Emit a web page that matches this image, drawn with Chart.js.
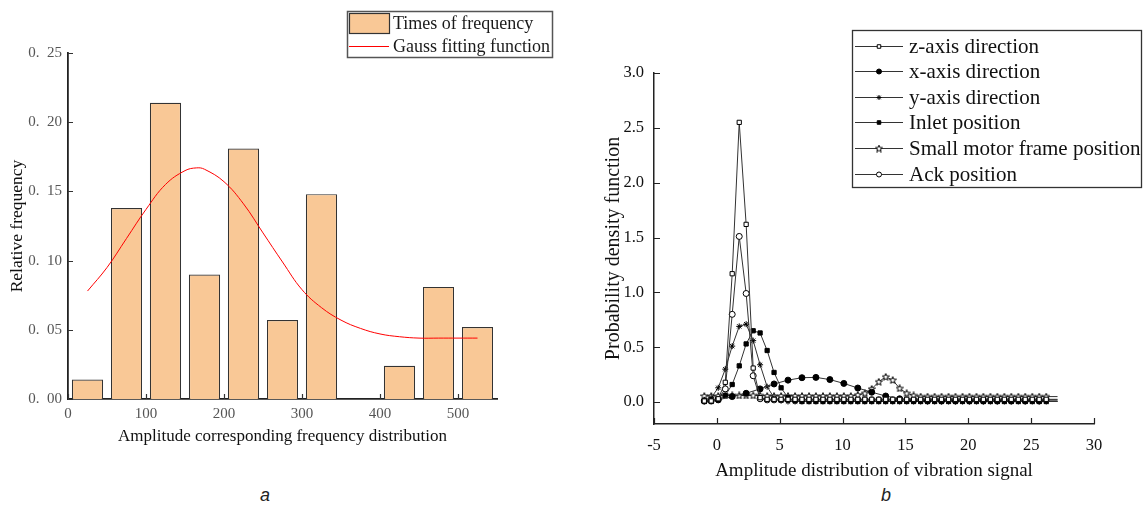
<!DOCTYPE html>
<html>
<head>
<meta charset="utf-8">
<script src="https://cdn.jsdelivr.net/npm/chart.js@4.4.0/dist/chart.umd.min.js"></script>
<style>
  body { margin: 0; background: #fff; width: 1145px; height: 508px; position: relative; overflow: hidden; }
  canvas { position: absolute; top: 0; }
  #histChart { left: 0; }
  #pdfChart { left: 590px; }
  .cap { position: absolute; top: 485px; font: italic 18px "Liberation Sans", Arial, sans-serif; color: #222; }
</style>
</head>
<body>
<canvas id="histChart" width="560" height="450"></canvas>
<canvas id="pdfChart" width="555" height="485"></canvas>
<div class="cap" style="left:260px">a</div>
<div class="cap" style="left:881px">b</div>
<script>
// ---- chart a: histogram + gauss fit
const binCenters = [25, 75, 125, 175, 225, 275, 325, 375, 425, 475, 525];
const relFreq = [0.014, 0.138, 0.214, 0.090, 0.181, 0.057, 0.148, 0, 0.024, 0.081, 0.052];
const gaussX = [25, 50, 75, 100, 125, 150, 165, 175, 200, 225, 250, 275, 300, 325, 350, 375, 400, 425, 450, 475, 500, 525];
const gaussY = [0.078, 0.095, 0.116, 0.137, 0.155, 0.165, 0.167, 0.166, 0.157, 0.141, 0.120, 0.099, 0.079, 0.066, 0.057, 0.051, 0.047, 0.045, 0.044, 0.044, 0.044, 0.044];
const histXTicks = [0, 100, 200, 300, 400, 500];
const histYTicks = [0, 0.05, 0.10, 0.15, 0.20, 0.25];
const histYLabels = ['0.\u200200', '0.\u200205', '0.\u200210', '0.\u200215', '0.\u200220', '0.\u200225'];

// ---- chart b: probability density curves
const gridX = [-1.00, -0.45, 0.11, 0.67, 1.22, 1.78, 2.33, 2.89, 3.44, 4.00, 4.55, 5.11, 5.66, 6.22, 6.77, 7.33, 7.88, 8.44, 8.99, 9.55,
  10.10, 10.66, 11.21, 11.77, 12.32, 12.88, 13.43, 13.99, 14.54, 15.10, 15.65, 16.21, 16.76, 17.32, 17.87, 18.43, 18.98, 19.54, 20.09, 20.65,
  21.20, 21.76, 22.31, 22.87, 23.42, 23.98, 24.53, 25.09, 25.64, 26.20, 27.10];
const zAxis = [0.01, 0.01, 0.03, 0.18, 1.17, 2.55, 1.62, 0.31, 0.04, 0.025, 0.025, 0.025, 0.025, 0.025, 0.025, 0.025, 0.025, 0.025, 0.025, 0.025,
  0.025, 0.025, 0.025, 0.025, 0.025, 0.025, 0.025, 0.025, 0.025, 0.025, 0.025, 0.025, 0.025, 0.025, 0.025, 0.025, 0.025, 0.025, 0.025, 0.025,
  0.025, 0.025, 0.025, 0.025, 0.025, 0.025, 0.025, 0.025, 0.025, 0.025, 0.025];
const yAxis = [0.02, 0.04, 0.13, 0.30, 0.51, 0.69, 0.71, 0.56, 0.34, 0.14, 0.04, 0.015, 0.005, 0.005, 0.005, 0.005, 0.005, 0.005, 0.005, 0.005,
  0.005, 0.005, 0.005, 0.005, 0.005, 0.005, 0.005, 0.005, 0.005, 0.005, 0.005, 0.005, 0.005, 0.005, 0.005, 0.005, 0.005, 0.005, 0.005, 0.005,
  0.005, 0.005, 0.005, 0.005, 0.005, 0.005, 0.005, 0.005, 0.005, 0.005, 0.005];
const inlet = [0.005, 0.005, 0.02, 0.06, 0.16, 0.33, 0.53, 0.65, 0.63, 0.47, 0.27, 0.13, 0.04, 0.01, 0.005, 0.005, 0.005, 0.005, 0.005, 0.005,
  0.005, 0.005, 0.005, 0.005, 0.005, 0.005, 0.005, 0.005, 0.005, 0.005, 0.005, 0.005, 0.005, 0.005, 0.005, 0.005, 0.005, 0.005, 0.005, 0.005,
  0.005, 0.005, 0.005, 0.005, 0.005, 0.005, 0.005, 0.005, 0.005, 0.005, 0.005];
const motorFrame = [0.055, 0.055, 0.055, 0.06, 0.06, 0.06, 0.06, 0.06, 0.06, 0.055, 0.055, 0.055, 0.055, 0.055, 0.055, 0.055, 0.055, 0.055, 0.055, 0.055,
  0.055, 0.055, 0.065, 0.08, 0.12, 0.185, 0.23, 0.20, 0.125, 0.08, 0.06, 0.05, 0.05, 0.05, 0.05, 0.05, 0.05, 0.05, 0.05, 0.05,
  0.05, 0.05, 0.05, 0.05, 0.05, 0.05, 0.05, 0.05, 0.05, 0.05, 0.05];
const ack = [0.01, 0.01, 0.03, 0.12, 0.80, 1.51, 0.99, 0.24, 0.03, 0.02, 0.02, 0.02, 0.02, 0.02, 0.02, 0.02, 0.02, 0.02, 0.02, 0.02,
  0.02, 0.02, 0.02, 0.02, 0.02, 0.02, 0.02, 0.02, 0.02, 0.02, 0.02, 0.02, 0.02, 0.02, 0.02, 0.02, 0.02, 0.02, 0.02, 0.02,
  0.02, 0.02, 0.02, 0.02, 0.02, 0.02, 0.02, 0.02, 0.02, 0.02, 0.02];
const xAxisX = [-1.00, 0.11, 1.22, 2.33, 3.44, 4.55, 5.66, 6.77, 7.88, 8.99, 10.10, 11.21, 12.32, 13.43, 14.54, 15.65, 16.76, 17.87, 18.98, 20.09,
  21.20, 22.31, 23.42, 24.53, 25.64, 27.10];
const xAxisY = [0.01, 0.02, 0.05, 0.08, 0.12, 0.165, 0.20, 0.222, 0.225, 0.205, 0.17, 0.128, 0.09, 0.055, 0.03, 0.015, 0.01, 0.01, 0.01, 0.01,
  0.01, 0.01, 0.01, 0.01, 0.01, 0.01];
const pdfXTicks = [-5, 0, 5, 10, 15, 20, 25, 30];
const pdfYTicks = [0, 0.5, 1.0, 1.5, 2.0, 2.5, 3.0];
const pdfYLabels = ['0.0', '0.5', '1.0', '1.5', '2.0', '2.5', '3.0'];

const serif = '"Liberation Serif", "Times New Roman", serif';
Chart.defaults.font.family = serif;
const barFill = '#f9c896';

// short tick marks pointing into the plot
const innerTicks = {
  id: 'innerTicks',
  afterDraw(chart, args, o) {
    const { ctx, chartArea, scales } = chart;
    ctx.save();
    ctx.strokeStyle = o.color;
    ctx.lineWidth = o.width;
    ctx.beginPath();
    scales.x.ticks.forEach(t => {
      const px = Math.round(scales.x.getPixelForValue(t.value)) + 0.5;
      ctx.moveTo(px, chartArea.bottom);
      ctx.lineTo(px, chartArea.bottom - o.len);
    });
    scales.y.ticks.forEach(t => {
      const py = Math.round(scales.y.getPixelForValue(t.value)) + 0.5;
      ctx.moveTo(chartArea.left, py);
      ctx.lineTo(chartArea.left + o.len, py);
    });
    ctx.stroke();
    ctx.restore();
  }
};

const histLegend = {
  id: 'histLegend',
  afterDraw(chart) {
    const ctx = chart.ctx;
    const ds = chart.data.datasets;
    ctx.save();
    ctx.strokeStyle = '#555';
    ctx.lineWidth = 1.5;
    ctx.strokeRect(347.5, 11.5, 205, 46);
    ctx.fillStyle = barFill;
    ctx.fillRect(349.5, 13.5, 40, 20);
    ctx.strokeStyle = '#333';
    ctx.lineWidth = 1.2;
    ctx.strokeRect(349.5, 13.5, 40, 20);
    ctx.strokeStyle = '#ff0000';
    ctx.lineWidth = 1;
    ctx.beginPath();
    ctx.moveTo(349, 46.5);
    ctx.lineTo(389, 46.5);
    ctx.stroke();
    ctx.fillStyle = '#1a1a1a';
    ctx.font = '18px ' + serif;
    ctx.textBaseline = 'middle';
    ctx.fillText(ds[1].label, 393, 24);
    ctx.fillText(ds[0].label, 393, 47);
    ctx.restore();
  }
};

new Chart(document.getElementById('histChart'), {
  type: 'bar',
  data: {
    datasets: [{
      type: 'line',
      label: 'Gauss fitting function',
      data: gaussX.map((x, i) => ({ x, y: gaussY[i] })),
      borderColor: '#ff0000',
      borderWidth: 1,
      pointRadius: 0,
      tension: 0.4,
      order: 0
    }, {
      label: 'Times of frequency',
      data: binCenters.map((x, i) => ({ x, y: relFreq[i] })),
      backgroundColor: barFill,
      borderColor: '#333',
      borderWidth: 1.2,
      barPercentage: 0.8,
      categoryPercentage: 1.0,
      order: 1
    }]
  },
  options: {
    responsive: false,
    animation: false,
    layout: { padding: { left: 0, top: 53, right: 63, bottom: 0 } },
    plugins: {
      legend: { display: false },
      tooltip: { enabled: false },
      innerTicks: { len: 5, color: '#333', width: 1.2 }
    },
    scales: {
      x: {
        type: 'linear', min: 0, max: 550, offset: false,
        afterBuildTicks: s => { s.ticks = histXTicks.map(v => ({ value: v })); },
        afterFit: s => { s.height = 51; },
        grid: { display: false, drawTicks: false, offset: false },
        border: { display: true, color: '#222', width: 1.8 },
        ticks: { color: '#555', font: { size: 15 }, padding: 6, maxRotation: 0 },
        title: { display: true, text: 'Amplitude corresponding frequency distribution', color: '#111', font: { size: 17 }, padding: { top: 0, bottom: 3 } }
      },
      y: {
        min: 0, max: 0.25,
        afterBuildTicks: s => { s.ticks = histYTicks.map(v => ({ value: v })); },
        afterFit: s => { s.width = 68; },
        grid: { display: false, drawTicks: false },
        border: { display: true, color: '#222', width: 1.8 },
        ticks: { color: '#555', font: { size: 15 }, padding: 6, callback: (v, i) => histYLabels[i] },
        title: { display: true, text: 'Relative frequency', color: '#111', font: { size: 17.5 }, padding: { top: 7, bottom: 0 } }
      }
    }
  },
  plugins: [innerTicks, histLegend]
});

// five-pointed open star marker
function starMarker(size) {
  const c = document.createElement('canvas');
  c.width = c.height = size;
  const g = c.getContext('2d');
  const m = size / 2;
  g.beginPath();
  for (let i = 0; i < 10; i++) {
    const r = i % 2 ? size * 0.2 : size * 0.46;
    const a = -Math.PI / 2 + i * Math.PI / 5;
    g.lineTo(m + r * Math.cos(a), m + 0.3 + r * Math.sin(a));
  }
  g.closePath();
  g.fillStyle = '#fff';
  g.fill();
  g.strokeStyle = '#000';
  g.lineWidth = 1;
  g.stroke();
  return c;
}

function curve(label, xs, ys, style, fill) {
  const last = xs.length - 1;
  return {
    label,
    data: xs.map((x, i) => ({ x, y: ys[i] })),
    pointStyle: style,
    pointBackgroundColor: fill,
    pointBorderColor: '#000',
    pointBorderWidth: 1,
    pointRadius: c => (c.dataIndex === last ? 0 : 3),
    borderColor: '#333',
    borderWidth: 1,
    tension: 0
  };
}

const pdfLegend = {
  id: 'pdfLegend',
  afterDraw(chart) {
    const ctx = chart.ctx;
    ctx.save();
    ctx.strokeStyle = '#333';
    ctx.lineWidth = 1.3;
    ctx.strokeRect(262.5, 30.5, 289, 157);
    ctx.font = '21px ' + serif;
    ctx.textBaseline = 'middle';
    chart.data.datasets.forEach((ds, i) => {
      const y = Math.round(45.5 + i * 25.6) + 0.5;
      ctx.strokeStyle = '#333';
      ctx.lineWidth = 1;
      ctx.beginPath();
      ctx.moveTo(265, y);
      ctx.lineTo(313, y);
      ctx.stroke();
      ctx.fillStyle = ds.pointBackgroundColor;
      ctx.strokeStyle = '#000';
      Chart.helpers.drawPoint(ctx, { pointStyle: ds.pointStyle, rotation: 0, radius: 2.5, borderWidth: 1 }, 289, y);
      ctx.fillStyle = '#111';
      ctx.fillText(ds.label, 319, y + 1);
    });
    ctx.restore();
  }
};

new Chart(document.getElementById('pdfChart'), {
  type: 'line',
  data: {
    datasets: [
      curve('z-axis direction', gridX, zAxis, 'rect', '#fff'),
      curve('x-axis direction', xAxisX, xAxisY, 'circle', '#000'),
      curve('y-axis direction', gridX, yAxis, 'star', '#000'),
      curve('Inlet position', gridX, inlet, 'rect', '#000'),
      curve('Small motor frame position', gridX, motorFrame, starMarker(8), '#fff'),
      curve('Ack position', gridX, ack, 'circle', '#fff')
    ]
  },
  options: {
    responsive: false,
    animation: false,
    layout: { padding: { left: 0, top: 73, right: 51, bottom: 0 } },
    plugins: {
      legend: { display: false },
      tooltip: { enabled: false },
      innerTicks: { len: 6, color: '#222', width: 1.2 }
    },
    scales: {
      x: {
        type: 'linear', min: -5, max: 30,
        afterBuildTicks: s => { s.ticks = pdfXTicks.map(v => ({ value: v })); },
        afterFit: s => { s.height = 61; },
        grid: { display: false, drawTicks: false },
        border: { display: true, color: '#222', width: 1.5 },
        ticks: { color: '#111', font: { size: 16.5 }, padding: 12, maxRotation: 0 },
        title: { display: true, text: 'Amplitude distribution of vibration signal', color: '#111', font: { size: 19 }, padding: { top: 0, bottom: 3 } }
      },
      y: {
        type: 'linear', min: -0.2, max: 3.0,
        afterBuildTicks: s => { s.ticks = pdfYTicks.map(v => ({ value: v })); },
        afterFit: s => { s.width = 64; },
        grid: { display: false, drawTicks: false },
        border: { display: true, color: '#222', width: 1.5 },
        ticks: { color: '#111', font: { size: 16.5 }, padding: 10, callback: (v, i) => pdfYLabels[i] },
        title: { display: true, text: 'Probability density function', color: '#111', font: { size: 20 }, padding: { top: 12, bottom: 0 } }
      }
    }
  },
  plugins: [innerTicks, pdfLegend]
});
</script>
</body>
</html>
